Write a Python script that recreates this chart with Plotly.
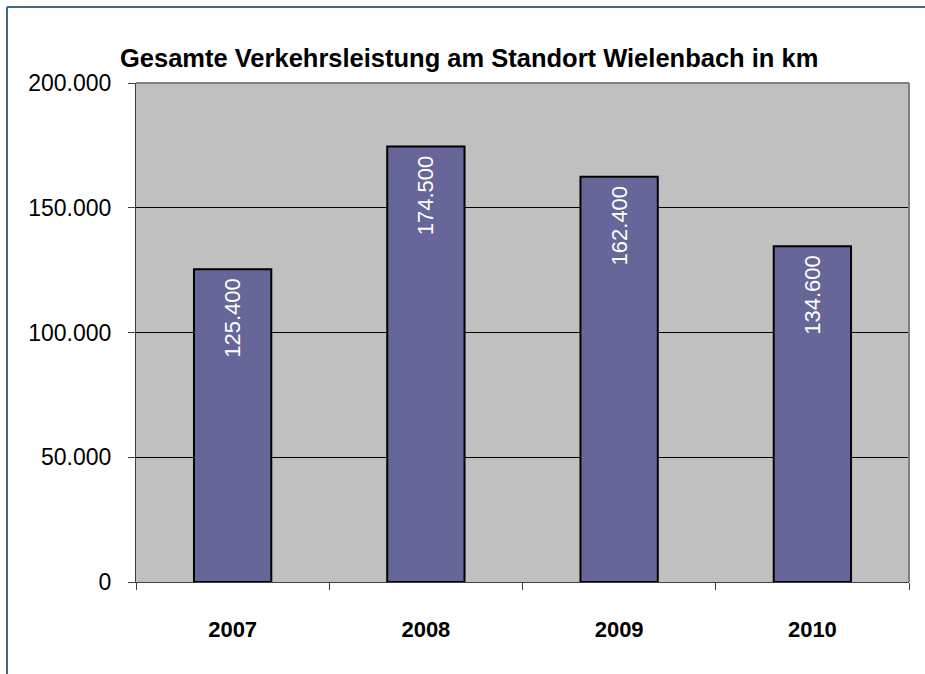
import plotly.graph_objects as go

years = ["2007", "2008", "2009", "2010"]
km = [125400, 174500, 162400, 134600]
y_ticks = [0, 50000, 100000, 150000, 200000]

FONT = "Liberation Sans, Arial, sans-serif"

fig = go.Figure()
fig.add_trace(go.Bar(
    x=years, y=km,
    marker=dict(color="#666699", line=dict(color="#000000", width=2)),
    texttemplate="%{y:,d}\u00a0",
    textposition="inside",
    insidetextanchor="end",
    textangle=-90,
    textfont=dict(family=FONT, size=22, color="#ffffff"),
    constraintext="none",
    cliponaxis=False,
))

fig.update_layout(
    width=925, height=674,
    margin=dict(l=136, r=16, t=83, b=92),
    paper_bgcolor="#ffffff",
    plot_bgcolor="#c0c0c0",
    separators=",.",
    bargap=0.6,
    showlegend=False,
    font=dict(family=FONT, color="#000000"),
    title=dict(
        text="<b>Gesamte Verkehrsleistung am Standort Wielenbach in km</b>",
        x=0.431, xanchor="center", xref="paper",
        y=1 - 58 / 674, yanchor="middle",
        font=dict(size=25.5, color="#000000"),
    ),
    uniformtext=dict(minsize=22, mode="show"),
)

fig.update_xaxes(
    type="category",
    showgrid=False,
    showline=True, linecolor="#404040", linewidth=1,
    ticks="outside", ticklen=7, tickcolor="#404040", tickson="boundaries",
    tickfont=dict(size=22, family=FONT),
    tickprefix="<b>", ticksuffix="</b>",
    ticklabelstandoff=28,
)
fig.update_yaxes(
    range=[0, 200000],
    tickvals=y_ticks, tickformat=",d",
    showgrid=True, gridcolor="#000000", gridwidth=1,
    showline=True, linecolor="#404040", linewidth=1,
    ticks="outside", ticklen=7, tickcolor="#404040",
    tickfont=dict(size=23, family=FONT),
    ticklabelstandoff=12,
    zeroline=False,
)

# plot-area frame on top and right
fig.add_shape(type="line", xref="paper", yref="paper", x0=0, x1=1, y0=1, y1=1,
              line=dict(color="#808080", width=2))
fig.add_shape(type="line", xref="paper", yref="paper", x0=1, x1=1, y0=0, y1=1,
              line=dict(color="#808080", width=2))

# outer chart border (left and top edges)
pw, ph = 925 - 136 - 16, 674 - 83 - 92
left = (7 - 136) / pw
top = (582 - 7) / ph
fig.add_shape(type="line", xref="paper", yref="paper", x0=left, x1=(940 - 136) / pw,
              y0=top, y1=top, line=dict(color="#41697f", width=2))
fig.add_shape(type="line", xref="paper", yref="paper", x0=left, x1=left,
              y0=top, y1=(582 - 690) / ph, line=dict(color="#41697f", width=2))

fig.write_html("out.html")
